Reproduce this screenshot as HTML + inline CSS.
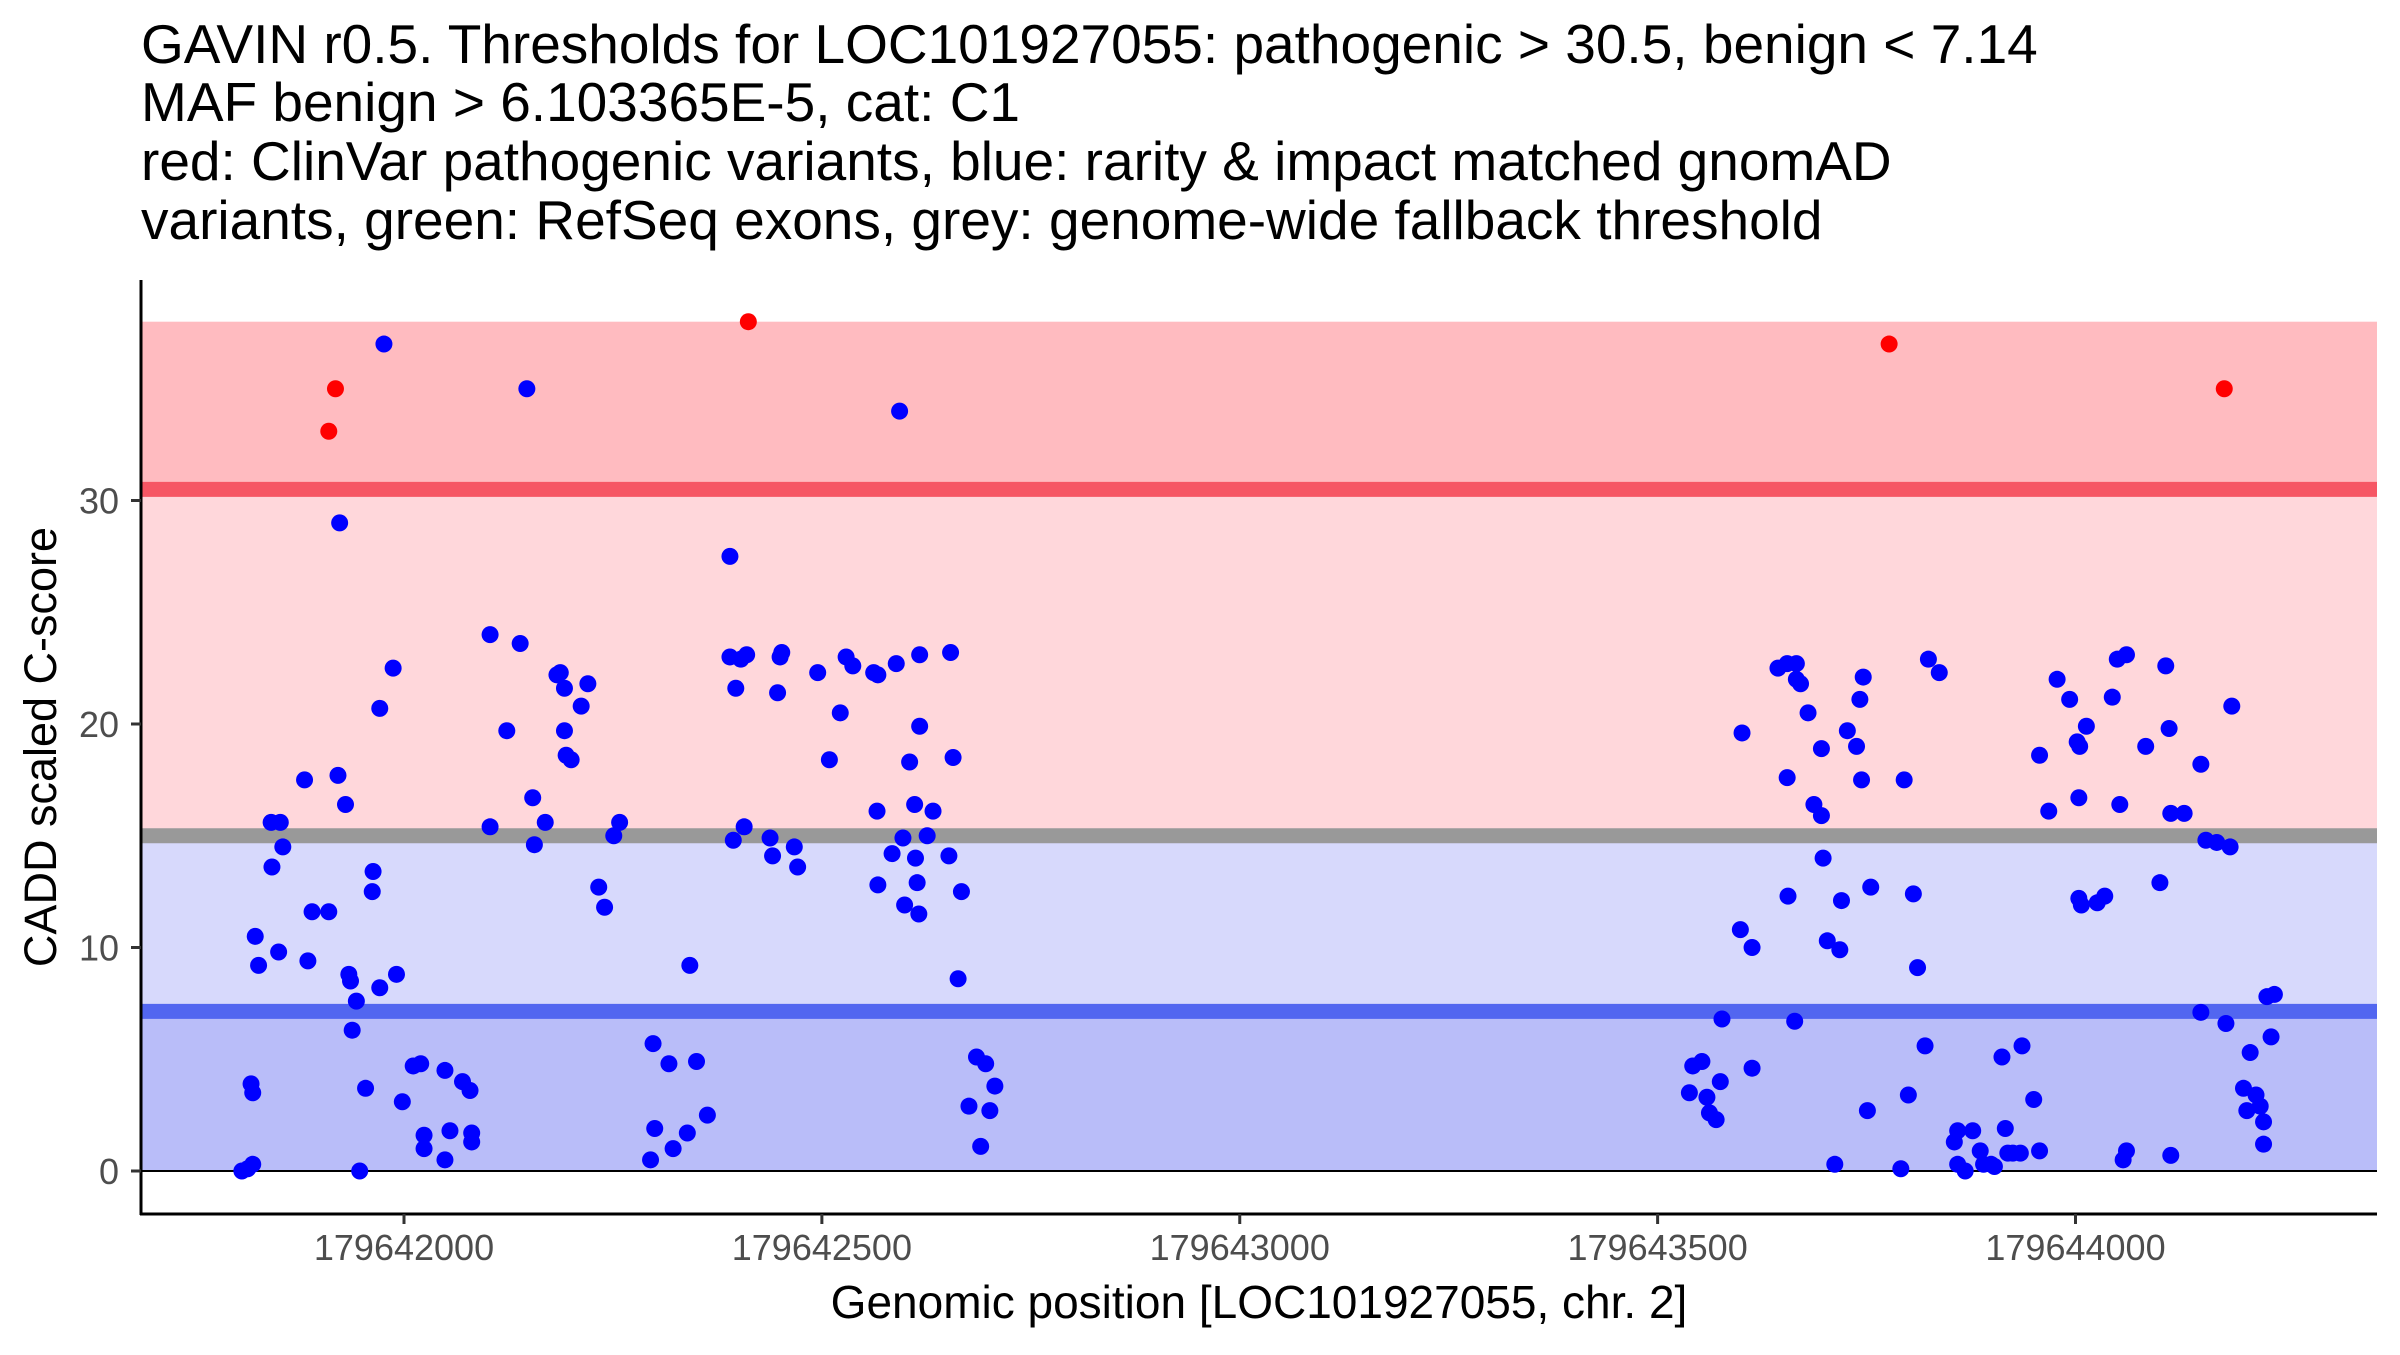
<!DOCTYPE html>
<html><head><meta charset="utf-8"><style>
html,body{margin:0;padding:0;background:#fff}
svg text{font-family:"Liberation Sans",sans-serif}
</style></head><body>
<svg id="chart" width="2400" height="1350" viewBox="0 0 2400 1350" xmlns="http://www.w3.org/2000/svg">
<g font-size="55" fill="#000">
<text x="141" y="63">GAVIN r0.5. Thresholds for LOC101927055: pathogenic &gt; 30.5, benign &lt; 7.14</text>
<text x="141" y="121">MAF benign &gt; 6.103365E-5, cat: C1</text>
<text x="141" y="180">red: ClinVar pathogenic variants, blue: rarity &amp; impact matched gnomAD</text>
<text x="141" y="239">variants, green: RefSeq exons, grey: genome-wide fallback threshold</text>
</g>
<g id="bands"></g>
<g id="points"></g>
<g id="axes"></g>
<text x="1259" y="1318" font-size="46" text-anchor="middle">Genomic position [LOC101927055, chr. 2]</text>
<text x="0" y="0" font-size="45" text-anchor="middle" transform="translate(56,747) rotate(-90)">CADD scaled C-score</text>
</svg>
<script>
const BASE = 179642000;
const xTicks = [179642000, 179642500, 179643000, 179643500, 179644000];
const yTicks = [0, 10, 20, 30];
const thresholds = {pathogenic: 30.5, fallback: 15, benign: 7.14, max: 38};
const benignOffsets = [-194,-187,-181,-183,-181,-178,-174,-158,-159,-148,-145,-150,-119,-115,-110,-90,-79,-77,-70,-66,-64,-62,-57,-53,-46,-37,-38,-29,-29,-24,-13,-9,-2,11,20,24,24,49,49,55,70,79,81,81,103,123,139,147,154,156,169,183,187,192,192,194,200,212,220,233,240,251,258,103,
295,298,300,317,322,339,342,350,363,390,390,394,397,403,407,410,438,441,447,450,452,467,471,495,509,522,529,537,562,566,567,567,584,589,593,597,599,605,611,612,614,616,617,617,626,633,652,654,657,663,667,676,685,690,696,701,707,
1538,1542,1553,1559,1562,1570,1575,1577,1599,1601,1613,1613,1644,1655,1655,1656,1666,1666,1671,1664,1680,1687,1696,1696,1698,1703,1712,1718,1720,1727,1738,1744,1742,1746,1755,1751,1791,1795,1800,1806,1811,1820,1824,1837,1855,1859,1859,1868,1877,1886,1890,1899,1903,1912,1916,1919,1925,1936,1934,1950,1957,1957,1968,1978,1993,2002,2005,2004,2004,2007,2013,2026,2035,2044,2050,2053,2061,2057,2061,2084,2101,2108,2112,2114,2114,2130,2150,2150,2156,2169,2180,2185,2187,2201,2209,2205,2216,2221,2225,2225,2229,2234,2238];
const benignScores = [0,0.1,0.3,3.9,3.5,10.5,9.2,13.6,15.6,15.6,14.5,9.8,17.5,9.4,11.6,11.6,17.7,29,16.4,8.8,8.5,6.3,7.6,0,3.7,13.4,12.5,20.7,8.2,37,22.5,8.8,3.1,4.7,4.8,1.6,1.0,4.5,0.5,1.8,4.0,3.6,1.7,1.3,24,19.7,23.6,35,16.7,14.6,15.6,22.2,22.3,21.6,19.7,18.6,18.4,20.8,21.8,12.7,11.8,15.0,15.6,15.4,
0.5,5.7,1.9,4.8,1.0,1.7,9.2,4.9,2.5,27.5,23,14.8,21.6,22.9,15.4,23.1,14.9,14.1,21.4,23,23.2,14.5,13.6,22.3,18.4,20.5,23,22.6,22.3,16.1,22.2,12.8,14.2,22.7,34,14.9,11.9,18.3,16.4,14.0,12.9,11.5,23.1,19.9,15.0,16.1,14.1,23.2,18.5,8.6,12.5,2.9,5.1,1.1,4.8,2.7,3.8,
3.5,4.7,4.9,3.3,2.6,2.3,4.0,6.8,10.8,19.6,10.0,4.6,22.5,22.7,17.6,12.3,22.7,22.0,21.8,6.7,20.5,16.4,18.9,15.9,14.0,10.3,0.3,9.9,12.1,19.7,19.0,17.5,21.1,22.1,12.7,2.7,0.1,17.5,3.4,12.4,9.1,5.6,22.9,22.3,1.3,1.8,0.3,0,1.8,0.9,0.3,0.3,0.2,5.1,1.9,0.8,0.8,5.6,0.8,3.2,0.9,18.6,16.1,22.0,21.1,19.2,19.0,16.7,12.2,11.9,19.9,12.0,12.3,21.2,22.9,16.4,23.1,0.5,0.9,19.0,12.9,22.6,19.8,16.0,0.7,16.0,7.1,18.2,14.8,14.7,6.6,14.5,20.8,3.7,5.3,2.7,3.4,2.9,2.2,1.2,7.8,6.0,7.9];
const pathoOffsets = [-90,-82,412,1777,2178];
const pathoScores = [33.1,35,38,37,35];

const NS='http://www.w3.org/2000/svg';
const L=141,R=2377,T=280,B=1214;
function xs(p){return 404+(p-BASE)*0.83575;}
function ys(s){return 1171-s*22.35;}
function mk(tag,attrs,parent){const e=document.createElementNS(NS,tag);for(const k in attrs)e.setAttribute(k,attrs[k]);parent.appendChild(e);return e;}
const bands=document.getElementById('bands'),pts=document.getElementById('points'),axes=document.getElementById('axes');
function band(a,b,c,name){const e=mk('rect',{x:L,y:ys(b),width:R-L,height:ys(a)-ys(b),fill:c},bands);

}
band(0,thresholds.benign,'#b9bdf9','benign-band');
band(thresholds.benign,thresholds.fallback,'#d7d9fc','uncertain-benign-band');
band(thresholds.fallback,thresholds.pathogenic,'#ffd7db','uncertain-pathogenic-band');
band(thresholds.pathogenic,thresholds.max,'#ffbbc0','pathogenic-band');
function hline(v,c,w,name){const e=mk('line',{x1:L,x2:R,y1:ys(v),y2:ys(v),stroke:c,'stroke-width':w},bands);

}
hline(thresholds.pathogenic,'#f65664',15,'pathogenic-threshold-line');
hline(thresholds.fallback,'#999999',15,'fallback-threshold-line');
hline(thresholds.benign,'#5266f0',15,'benign-threshold-line');
hline(0,'#000',2,'zero-line');
benignOffsets.forEach((o,i)=>{const c=mk('circle',{cx:xs(BASE+o),cy:ys(benignScores[i]),r:8.5,fill:'#0000ff'},pts);

});
pathoOffsets.forEach((o,i)=>{const c=mk('circle',{cx:xs(BASE+o),cy:ys(pathoScores[i]),r:8.5,fill:'#ff0000'},pts);

});
mk('line',{x1:L,x2:L,y1:T,y2:B+1,stroke:'#000','stroke-width':3},axes);
mk('line',{x1:L-1,x2:R,y1:B,y2:B,stroke:'#000','stroke-width':3},axes);
yTicks.forEach(v=>{mk('line',{x1:L-10,x2:L,y1:ys(v),y2:ys(v),stroke:'#333','stroke-width':3},axes);
const t=mk('text',{x:L-22,y:ys(v)+13,'font-size':36,'text-anchor':'end',fill:'#4d4d4d'},axes);t.textContent=v;

});
xTicks.forEach(v=>{mk('line',{x1:xs(v),x2:xs(v),y1:B,y2:B+10,stroke:'#333','stroke-width':3},axes);
const t=mk('text',{x:xs(v),y:1260,'font-size':36,'text-anchor':'middle',fill:'#4d4d4d'},axes);t.textContent=v;

});
</script>
</body></html>
